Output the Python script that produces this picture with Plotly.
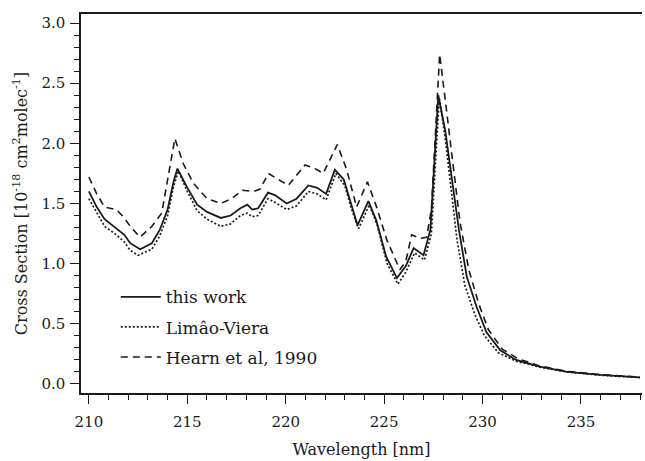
import plotly.graph_objects as go

# this work (solid)
wl_this = [210.0, 210.4, 210.8, 211.4, 211.8, 212.1, 212.6, 213.2, 213.6, 214.0, 214.3, 214.5,
           214.97, 215.5, 216.0, 216.7, 217.2, 217.7, 218.05, 218.3, 218.6, 219.1, 219.45, 220.05,
           220.55, 221.15, 221.6, 222.05, 222.5, 222.95, 223.3, 223.65, 224.2, 224.6, 225.1, 225.65,
           226.1, 226.5, 227.0, 227.35, 227.5, 227.75, 228.1, 228.45, 228.8, 229.2, 229.7, 230.2,
           230.9, 231.7, 232.9, 234.3, 236.0, 238.0]
cs_this = [1.60, 1.47, 1.37, 1.29, 1.24, 1.17, 1.12, 1.17, 1.28, 1.45, 1.68, 1.79,
           1.64, 1.49, 1.43, 1.38, 1.40, 1.46, 1.49, 1.45, 1.46, 1.59, 1.57, 1.50,
           1.54, 1.65, 1.63, 1.58, 1.78, 1.70, 1.50, 1.32, 1.52, 1.36, 1.06, 0.88,
           0.98, 1.13, 1.07, 1.28, 1.70, 2.40, 2.11, 1.70, 1.28, 0.89, 0.64, 0.43,
           0.28, 0.20, 0.145, 0.10, 0.075, 0.055]

# Limão-Viera (dotted)
wl_lv = [210.0, 210.4, 210.8, 211.4, 211.8, 212.1, 212.5, 213.2, 213.6, 214.0, 214.3, 214.55,
         215.0, 215.5, 216.0, 216.7, 217.2, 217.7, 218.05, 218.3, 218.6, 219.1, 219.45, 220.05,
         220.55, 221.15, 221.6, 222.05, 222.55, 223.0, 223.35, 223.7, 224.25, 224.65, 225.15, 225.7,
         226.1, 226.55, 227.05, 227.4, 227.55, 227.8, 228.1, 228.4, 228.7, 229.1, 229.6, 230.1,
         230.8, 231.7, 232.9, 234.3, 236.0, 238.0]
cs_lv = [1.54, 1.42, 1.31, 1.24, 1.18, 1.11, 1.07, 1.12, 1.23, 1.40, 1.64, 1.77,
         1.60, 1.44, 1.37, 1.31, 1.33, 1.40, 1.42, 1.39, 1.40, 1.54, 1.51, 1.45,
         1.48, 1.60, 1.58, 1.53, 1.75, 1.65, 1.45, 1.29, 1.49, 1.32, 1.00, 0.83,
         0.93, 1.09, 1.03, 1.25, 1.65, 2.38, 2.05, 1.62, 1.20, 0.82, 0.58, 0.40,
         0.26, 0.19, 0.14, 0.10, 0.073, 0.053]

# Hearn et al, 1990 (dashed)
wl_hearn = [210.0, 210.4, 210.8, 211.4, 211.8, 212.1, 212.6, 213.2, 213.7, 214.0, 214.37, 214.8,
            215.3, 216.0, 216.7, 217.25, 217.8, 218.36, 218.7, 219.12, 219.6, 220.13, 220.98, 221.5,
            221.9, 222.62, 223.1, 223.6, 224.15, 224.62, 225.13, 225.8, 226.1, 226.4, 226.83, 227.16,
            227.4, 227.6, 227.82, 228.15, 228.5, 228.85, 229.3, 229.8, 230.3, 231.0, 231.8, 232.9,
            234.3, 236.0, 238.0]
cs_hearn = [1.72, 1.58, 1.47, 1.45, 1.38, 1.31, 1.22, 1.31, 1.42, 1.70, 2.04, 1.83,
            1.67, 1.54, 1.50, 1.54, 1.61, 1.60, 1.62, 1.75, 1.70, 1.65, 1.82, 1.79,
            1.75, 1.99, 1.78, 1.47, 1.68, 1.47, 1.20, 0.95, 1.02, 1.24, 1.21, 1.22,
            1.45, 2.10, 2.74, 2.30, 1.80, 1.35, 0.95, 0.67, 0.45, 0.29, 0.21, 0.15,
            0.105, 0.077, 0.057]

x_ticks = [210, 215, 220, 225, 230, 235]
y_ticks = [0.0, 0.5, 1.0, 1.5, 2.0, 2.5, 3.0]

FONT = "DejaVu Serif"
INK = "#1a1a1a"

fig = go.Figure()
fig.add_trace(go.Scatter(x=wl_this, y=cs_this, mode="lines", name="this work",
                         legendgroup="a", line=dict(color=INK, width=1.8)))
fig.add_trace(go.Scatter(x=wl_lv, y=cs_lv, mode="lines", name="Limâo-Viera",
                         legendgroup="b", line=dict(color=INK, width=1.7, dash="2px,2px")))
fig.add_trace(go.Scatter(x=wl_hearn, y=cs_hearn, mode="lines", name="Hearn et al, 1990",
                         legendgroup="c", line=dict(color=INK, width=1.6, dash="7px,5px")))

fig.update_layout(
    width=645, height=461,
    margin=dict(l=81, r=3, t=14, b=68),
    paper_bgcolor="white", plot_bgcolor="white",
    font=dict(family=FONT, size=15, color=INK),
    showlegend=True,
    legend=dict(x=0.062, y=0.30, xanchor="left", yanchor="top",
                bgcolor="rgba(0,0,0,0)", font=dict(family=FONT, size=17, color=INK),
                itemwidth=40, tracegroupgap=5),
    xaxis=dict(range=[209.6, 238.1], tickvals=x_ticks, ticks="outside", ticklen=9,
               tickwidth=1.2, tickcolor=INK, showline=True, linecolor=INK, linewidth=1.5,
               mirror=True, showgrid=False, zeroline=False, ticklabelstandoff=5,
               minor=dict(dtick=1, ticks="outside", ticklen=5, tickcolor=INK, tickwidth=1),
               title=dict(text="Wavelength [nm]", font=dict(family=FONT, size=16), standoff=14),
               tickfont=dict(family=FONT, size=15)),
    yaxis=dict(range=[-0.075, 3.075], tickvals=y_ticks, tickformat=".1f", ticks="outside",
               ticklen=9, tickwidth=1.2, tickcolor=INK, showline=True, linecolor=INK,
               linewidth=1.5, showgrid=False, zeroline=False, ticklabelstandoff=2,
               minor=dict(dtick=0.1, ticks="outside", ticklen=5, tickcolor=INK, tickwidth=1),
               title=dict(text="Cross Section [10<sup>-18</sup> cm<sup>2</sup>molec<sup>-1</sup>]",
                          font=dict(family=FONT, size=16), standoff=10),
               tickfont=dict(family=FONT, size=15)),
)

fig.write_html("out.html")
